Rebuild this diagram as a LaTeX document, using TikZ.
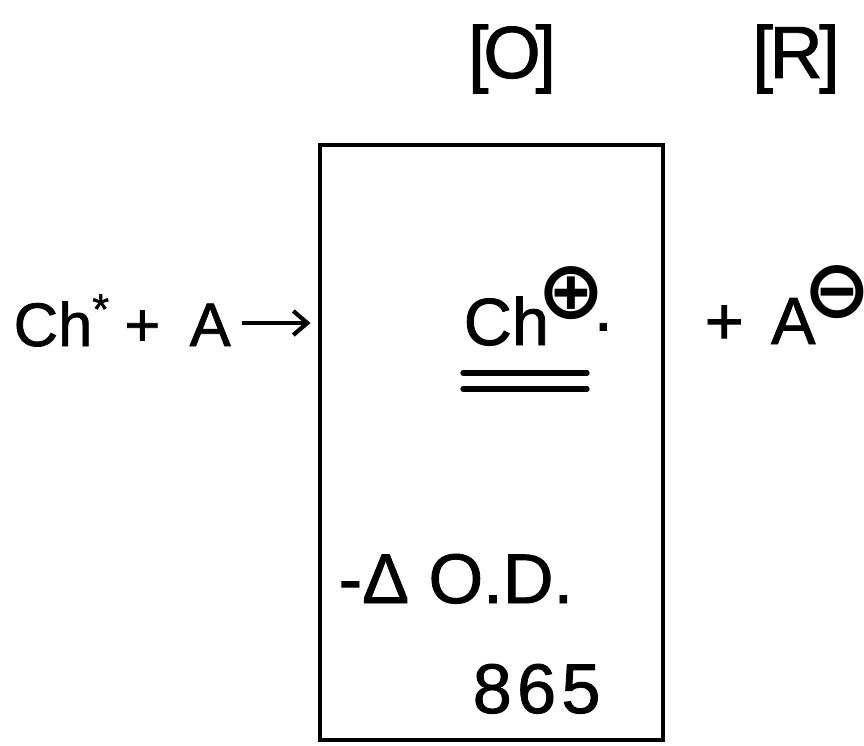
\documentclass[tikz,border=0pt]{standalone}
\usepackage{fontspec}
\setmainfont{Liberation Sans}[BoldFont={Liberation Sans}, BoldFeatures={FakeBold=1.2}]
\newfontfamily\chargefont{DejaVu Sans}
\usepackage{tikz}
\usetikzlibrary{arrows.meta, positioning, calc}

\newcommand{\charge}[1]{\kern-3.4pt\raisebox{7.4pt}{\chargefont\fontsize{23}{24}\selectfont #1}\kern-4.6pt}

\tikzset{
  letter/.style={inner sep=0pt, anchor=base west},
  cellbox/.style={draw, line width=1.4pt, minimum width=3.43cm, minimum height=5.95cm},
  reaction/.style={line width=1.2pt, -{Straight Barb[length=1.4mm, width=2.4mm]}},
  bar/.style={line width=1.5pt, line cap=round}
}

\begin{document}
\begin{tikzpicture}
  \useasboundingbox (0,0) rectangle (8.64,-7.45);

  % States
  \node[letter, anchor=base, font=\fontsize{21}{24}\selectfont\bfseries] (ox) at (5.12,-0.78) {[\kern-1.5pt O\kern-1.5pt]};
  \node[letter, anchor=base, font=\fontsize{21}{24}\selectfont\bfseries] (red) at (7.96,-0.78) {[\kern-1pt R\kern-1pt]};

  % Cell
  \node[cellbox] (cell) at (4.915,-4.425) {};

  % Reaction
  \node[letter, font=\fontsize{17.5}{20}\selectfont\bfseries] (react) at (0.13,-3.46) {Ch\textsuperscript{*}\kern-1pt{} + \kern3.5pt A};
  \node[letter, font=\fontsize{19}{22}\selectfont\bfseries] (prod) at (4.63,-3.45) {Ch\charge{⊕}\kern1pt·};
  \node[letter, font=\fontsize{19}{22}\selectfont\bfseries] (anion) at (7.04,-3.44) {+ \kern2.5pt A\charge{⊖}};

  \draw[reaction] ($(react.base east)+(0.11,0.23)$) -- ($(react.base -| cell.west)+(-0.07,0.23)$);

  \draw[bar] ($(prod.base west)+(0,-0.28)$) -- ($(prod.base west)+(1.24,-0.28)$);
  \draw[bar] ($(prod.base west)+(0,-0.44)$) -- ($(prod.base west)+(1.24,-0.44)$);

  % Absorbance
  \node[letter, font=\fontsize{20}{23}\selectfont\bfseries] (od) at (3.38,-6.03) {-Δ O.D.};
  \node[letter, font=\fontsize{20}{23}\selectfont\bfseries] (wave) at (4.72,-7.13) {8\kern1.5pt 6\kern1.5pt 5};
\end{tikzpicture}
\end{document}
